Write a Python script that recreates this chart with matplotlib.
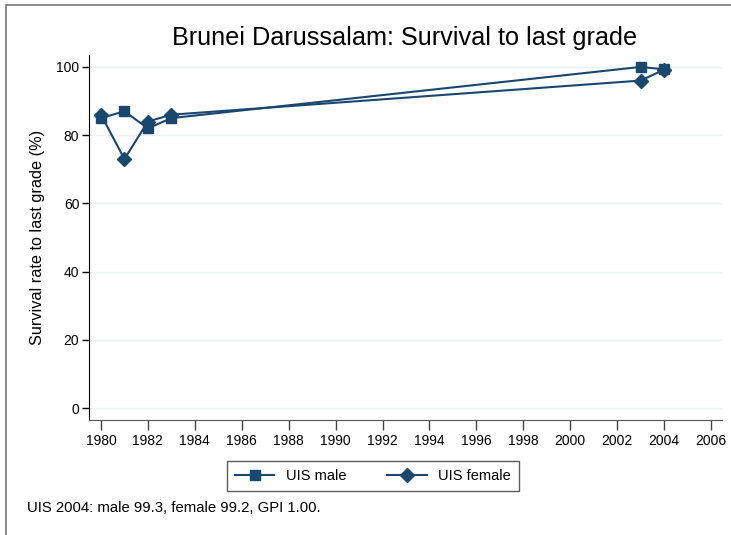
import matplotlib
matplotlib.use("Agg")
import matplotlib.pyplot as plt
from matplotlib.patches import Rectangle

plt.rcParams['font.family'] = ['Liberation Sans', 'DejaVu Sans']

years_male = [1980, 1981, 1982, 1983, 2003, 2004]
male = [85, 87, 82, 85, 100, 99.3]
years_female = [1980, 1981, 1982, 1983, 2003, 2004]
female = [86, 73, 84, 86, 96, 99.2]
xticks = list(range(1980, 2007, 2))
yticks = [0, 20, 40, 60, 80, 100]

title = "Brunei Darussalam: Survival to last grade"
ylabel = "Survival rate to last grade (%)"
note = "UIS 2004: male 99.3, female 99.2, GPI 1.00."

color = '#1a476f'

fig = plt.figure(figsize=(7.31, 5.35), dpi=100)
fig.patch.set_facecolor('white')
# outer frame
fig.patches.append(Rectangle((6/731, -0.1), 1.2, 1 - 5/535 + 0.1, transform=fig.transFigure,
                             fill=False, edgecolor='#777777', linewidth=1.2))

ax = fig.add_axes([89/731, 1 - 420/535, (722 - 89)/731, (420 - 55)/535])
ax.plot(years_male, male, color=color, marker='s', markersize=7, linewidth=1.5, label='UIS male')
ax.plot(years_female, female, color=color, marker='D', markersize=7.5, linewidth=1.5, label='UIS female')

ax.set_xlim(1979.49, 2006.47)
ax.set_ylim(-3.5, 103.5)
ax.set_xticks(xticks)
ax.set_yticks(yticks)
ax.tick_params(axis='x', direction='out', length=7, width=1, color='#444444', labelsize=10, pad=3)
ax.tick_params(axis='y', direction='out', length=5, width=1, color='black', labelsize=10, pad=2)
for s in ['top', 'right']:
    ax.spines[s].set_visible(False)
ax.spines['left'].set_color('black')
ax.spines['bottom'].set_color('#555555')
ax.grid(axis='y', color='#eaf2f3', linewidth=1)
ax.set_axisbelow(True)

ax.set_ylabel(ylabel, fontsize=11.7)
ax.yaxis.set_label_coords((45 - 89)/633, 0.5)
fig.text(405/731, 1 - 38/535, title, ha='center', va='center', fontsize=18.2)

leg = fig.legend(loc='center', bbox_to_anchor=(373/731, 1 - 476/535), ncol=2, fontsize=10.5,
                 frameon=True, fancybox=False, edgecolor='#333333', borderpad=0.55,
                 handlelength=2.7, columnspacing=2.8, handletextpad=0.8)
leg.get_frame().set_linewidth(1)

fig.text(27/731, 1 - 508/535, note, ha='left', va='center', fontsize=10.7)

fig.savefig('out.png', dpi=100)
